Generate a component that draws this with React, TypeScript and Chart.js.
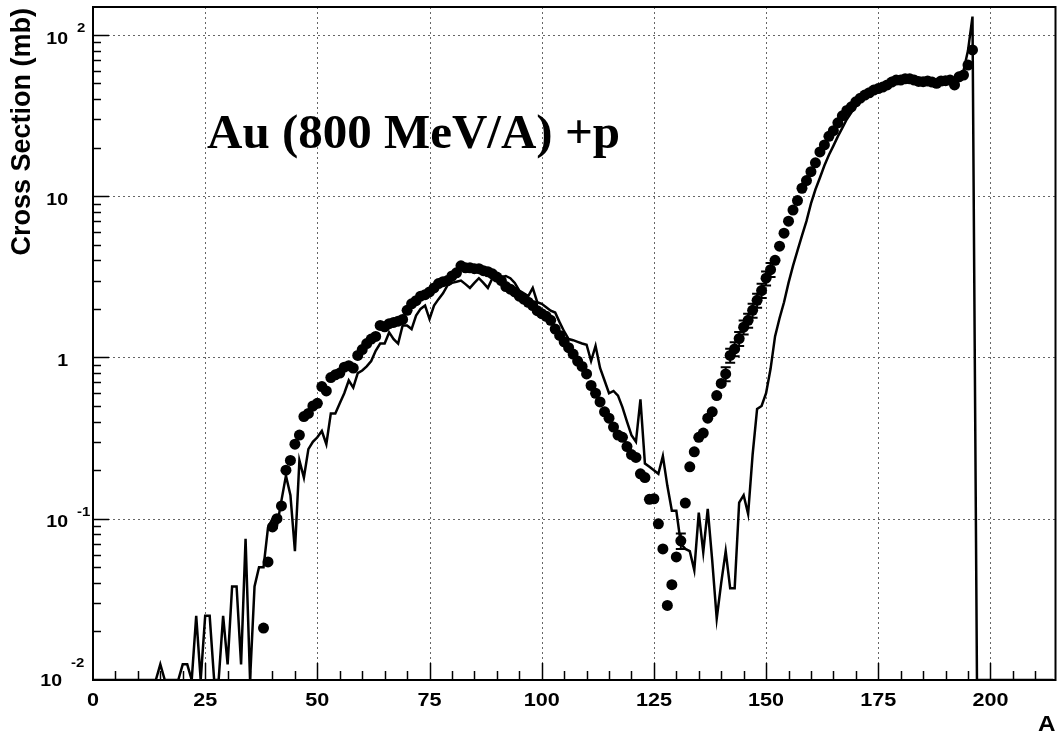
import React, { useEffect, useRef } from 'react';
import { Chart, registerables } from 'chart.js';

Chart.register(...registerables);

// ---------- axis ranges ----------
const X_MIN = 0;
const X_MAX = 214.5;
const Y_MIN = 0.01;
const Y_MAX = 149;

// ---------- tick labels ----------
const xTickValues = [0, 25, 50, 75, 100, 125, 150, 175, 200];
const xTickLabels = ['0', '25', '50', '75', '100', '125', '150', '175', '200'];
const yTickValues = [100, 10, 1, 0.1, 0.01];
const yTickBase = ['10', '10', '1', '10', '10'];
const yTickExp = ['2', '', '', '-1', '-2'];

// ---------- simulation (histogram line), A = 0 .. 214 ----------
const simStartA = 0;
const simValues = [
  0, 0, 0, 0, 0, 0, 0, 0, 0, 0,
  0, 0, 0, 0, 0, 0.0125, 0, 0, 0, 0,
  0.0125, 0.0125, 0, 0.025, 0, 0.025, 0.025, 0, 0, 0.025,
  0.0125, 0.038, 0.038, 0.0125, 0.075, 0, 0.038, 0.05, 0.05, 0.088,
  0.1, 0.09, 0.13, 0.185, 0.14, 0.063, 0.23, 0.18, 0.27, 0.3,
  0.32, 0.35, 0.29, 0.45, 0.45, 0.52, 0.6, 0.72, 0.65, 0.8,
  0.83, 0.88, 0.95, 1.1, 1.22, 1.22, 1.43, 1.3, 1.22, 1.58,
  1.58, 1.5, 1.82, 2.0, 2.1, 1.73, 2.1, 2.3, 2.5, 2.8,
  2.9, 2.95, 3.0, 2.85, 2.7, 2.9, 3.1, 2.9, 2.7, 3.1,
  3.15, 3.15, 3.2, 3.1, 2.9, 2.6, 2.5, 2.4, 2.7, 2.2,
  2.15, 2.05, 1.95, 1.9, 1.65, 1.45, 1.3, 1.28, 1.25, 1.22,
  1.2, 0.95, 1.18, 0.86, 0.72, 0.6, 0.62, 0.58, 0.49, 0.4,
  0.33, 0.3, 0.55, 0.22, 0.21, 0.2, 0.19, 0.245, 0.16, 0.112,
  0.112, 0.07, 0.065, 0.063, 0.048, 0.109, 0.062, 0.115, 0.055, 0.024,
  0.04, 0.063, 0.037, 0.037, 0.126, 0.14, 0.107, 0.25, 0.48, 0.5,
  0.6, 0.85, 1.35, 1.75, 2.2, 2.9, 3.7, 4.6, 5.7, 7.0,
  9.0, 11, 13, 15.5, 18, 20.5, 23.5, 26.5, 30, 33,
  36, 38.5, 40.5, 42.5, 44.5, 46, 47.5, 49, 50.5, 51.5,
  52.5, 53, 53, 52.5, 51.5, 51.3, 51.5, 51, 50.5, 51.5,
  52, 52, 50, 55, 60, 80, 130, 0, 0, 0,
  0, 0, 0, 0, 0, 0, 0, 0, 0, 0,
  0, 0, 0, 0, 0,
];

// ---------- experimental points, A = 38 .. 196 ----------
const expStartA = 38;
const expValues = [
  0.021, 0.054, 0.089, 0.10, 0.12, 0.20, 0.23, 0.29, 0.33, 0.43,
  0.45, 0.50, 0.52, 0.66, 0.62, 0.75, 0.78, 0.80, 0.87, 0.89,
  0.86, 1.03, 1.12, 1.22, 1.30, 1.35, 1.58, 1.55, 1.62, 1.65,
  1.68, 1.72, 1.96, 2.15, 2.25, 2.4, 2.45, 2.55, 2.7, 2.87,
  2.95, 3.0, 3.2, 3.35, 3.7, 3.6, 3.6, 3.55, 3.55, 3.45,
  3.4, 3.3, 3.15, 3.0, 2.75, 2.65, 2.55, 2.4, 2.3, 2.2,
  2.1, 1.95, 1.87, 1.8, 1.7, 1.5, 1.37, 1.25, 1.15, 1.05,
  0.95, 0.88, 0.79, 0.67, 0.6, 0.53, 0.46, 0.42, 0.37, 0.33,
  0.32, 0.28, 0.25, 0.24, 0.19, 0.18, 0.132, 0.133, 0.093, 0.065,
  0.029, 0.039, 0.058, 0.073, 0.125, 0.21, 0.26, 0.32, 0.34, 0.42,
  0.46, 0.58, 0.69, 0.79, 1.03, 1.13, 1.31, 1.54, 1.7, 1.96,
  2.26, 2.6, 3.1, 3.5, 4.0, 4.9, 5.9, 7.0, 8.2, 9.4,
  11.2, 12.5, 14.2, 16.1, 18.8, 20.8, 23.5, 25.5, 28.5, 31.5,
  34, 35.8, 38.5, 40.5, 42.4, 43.8, 45.5, 46.5, 47.5, 49,
  51, 52.5, 52.5, 53.5, 53.5, 52.5, 51.5, 51.3, 51.8, 51,
  50.1, 51.8, 52, 52.5, 49, 55, 56.4, 65, 80.7,
];

// ---------- visible error bars (relative) ----------
const errA = [131, 141, 142, 143, 144, 145, 146, 147, 148, 149, 150, 151];
const errRel = [0.11, 0.1, 0.1, 0.1, 0.1, 0.1, 0.1, 0.1, 0.1, 0.1, 0.1, 0.1];

const TITLE_TEXT = 'Au (800 MeV/A) +p';
const Y_TITLE = 'Cross Section (mb)';
const X_TITLE = 'A';

const SANS = '"Liberation Sans", Arial, Helvetica, sans-serif';
const SERIF = '"Liberation Serif", "Times New Roman", serif';

function drawScaledText(
  ctx: CanvasRenderingContext2D,
  text: string,
  x: number,
  centerY: number,
  size: number,
  align: 'left' | 'right' | 'center',
  hscale: number,
) {
  ctx.save();
  ctx.font = `bold ${size}px ${SANS}`;
  ctx.textAlign = 'left';
  ctx.textBaseline = 'alphabetic';
  const w = ctx.measureText(text).width * hscale;
  const left = align === 'center' ? x - w / 2 : align === 'right' ? x - w : x;
  ctx.translate(left, centerY + 0.358 * size);
  ctx.scale(hscale, 1);
  ctx.fillStyle = '#000';
  ctx.fillText(text, 0, 0);
  ctx.restore();
}

const pawPlugin = {
  id: 'pawAxes',
  beforeDatasetsDraw(chart: any) {
    const { ctx, chartArea: a, scales } = chart;
    const xs = scales.x;
    const ys = scales.y;
    ctx.save();
    ctx.strokeStyle = '#666';
    ctx.lineWidth = 1;
    ctx.setLineDash([2, 3]);
    xTickValues.forEach((v) => {
      if (v <= X_MIN) return;
      const px = Math.round(xs.getPixelForValue(v)) + 0.5;
      ctx.beginPath();
      ctx.moveTo(px, a.top);
      ctx.lineTo(px, a.bottom);
      ctx.stroke();
    });
    yTickValues.forEach((v) => {
      if (v <= Y_MIN) return;
      const py = Math.round(ys.getPixelForValue(v)) + 0.5;
      ctx.beginPath();
      ctx.moveTo(a.left, py);
      ctx.lineTo(a.right, py);
      ctx.stroke();
    });
    ctx.restore();
  },
  afterDatasetsDraw(chart: any) {
    const { ctx, chartArea: a, scales } = chart;
    const xs = scales.x;
    const ys = scales.y;
    ctx.save();

    // error bars
    ctx.strokeStyle = '#000';
    ctx.lineWidth = 2;
    errA.forEach((A, i) => {
      const v = expValues[A - expStartA];
      const px = xs.getPixelForValue(A);
      const pt = ys.getPixelForValue(v * (1 + errRel[i]));
      const pb = ys.getPixelForValue(v * (1 - errRel[i]));
      ctx.beginPath();
      ctx.moveTo(px, pt);
      ctx.lineTo(px, pb);
      ctx.moveTo(px - 5, pt);
      ctx.lineTo(px + 5, pt);
      ctx.moveTo(px - 5, pb);
      ctx.lineTo(px + 5, pb);
      ctx.stroke();
    });

    // frame
    ctx.lineWidth = 2;
    ctx.strokeStyle = '#000';
    ctx.strokeRect(a.left, a.top, a.right - a.left, a.bottom - a.top);

    // x ticks
    ctx.lineWidth = 1.5;
    for (let v = 5; v < X_MAX; v += 5) {
      const px = Math.round(xs.getPixelForValue(v)) + 0.5;
      const len = v % 25 === 0 ? 17 : 9;
      ctx.beginPath();
      ctx.moveTo(px, a.bottom);
      ctx.lineTo(px, a.bottom - len);
      ctx.stroke();
    }
    // y ticks
    for (let d = Y_MIN; d < Y_MAX; d *= 10) {
      for (let m = 1; m <= 9; m++) {
        const v = d * m;
        if (v <= Y_MIN * 1.0001 || v > Y_MAX) continue;
        const py = Math.round(ys.getPixelForValue(v)) + 0.5;
        const len = m === 1 ? 16 : 8;
        ctx.beginPath();
        ctx.moveTo(a.left, py);
        ctx.lineTo(a.left + len, py);
        ctx.stroke();
      }
    }

    // x tick labels
    xTickValues.forEach((v, i) => {
      const px = xs.getPixelForValue(v);
      drawScaledText(ctx, xTickLabels[i], px, a.bottom + 20, 18, 'center', 1.2);
    });

    // y tick labels
    yTickValues.forEach((v, i) => {
      const py = ys.getPixelForValue(v);
      const exp = yTickExp[i];
      const isBottom = v <= Y_MIN;
      const baseRight = isBottom ? a.left - 31 : a.left - 25;
      const baseCenter = isBottom ? py : py + 2.5;
      drawScaledText(ctx, yTickBase[i], baseRight, baseCenter, 17, 'right', 1.15);
      if (exp) {
        const expLeft = baseRight + 9;
        const expCenter = isBottom ? py - 18 : py - 7.5;
        drawScaledText(ctx, exp, expLeft, expCenter, 13, 'left', 1.15);
      }
    });

    // axis titles
    drawScaledText(ctx, X_TITLE, a.right, a.bottom + 43, 22, 'right', 1.1);

    ctx.save();
    ctx.font = `bold 27px ${SANS}`;
    ctx.fillStyle = '#000';
    ctx.textAlign = 'right';
    ctx.textBaseline = 'alphabetic';
    ctx.translate(30, 8);
    ctx.rotate(-Math.PI / 2);
    ctx.fillText(Y_TITLE, 0, 0);
    ctx.restore();

    // plot title
    ctx.font = `bold 49px ${SERIF}`;
    ctx.fillStyle = '#000';
    ctx.textAlign = 'left';
    ctx.textBaseline = 'alphabetic';
    ctx.fillText(TITLE_TEXT, 207, 148);

    ctx.restore();
  },
};

export default function App() {
  const canvasRef = useRef<HTMLCanvasElement | null>(null);

  useEffect(() => {
    const canvas = canvasRef.current;
    if (!canvas) return;

    const simData = simValues.map((v, i) => ({ x: simStartA + i, y: v > 0 ? v : Y_MIN }));
    const expData = expValues.map((v, i) => ({ x: expStartA + i, y: v }));

    const chart = new Chart(canvas, {
      type: 'line',
      data: {
        datasets: [
          {
            label: 'simulation',
            data: simData,
            borderColor: '#000',
            borderWidth: 2.5,
            pointRadius: 0,
            tension: 0,
            fill: false,
            clip: 0,
            order: 2,
          } as any,
          {
            label: 'experiment',
            data: expData,
            showLine: false,
            pointRadius: 5.5,
            pointBackgroundColor: '#000',
            pointBorderColor: '#000',
            pointBorderWidth: 0,
            order: 1,
          } as any,
        ],
      },
      options: {
        responsive: false,
        animation: false,
        events: [],
        layout: { padding: { left: 93, top: 7, right: 3, bottom: 58 } },
        plugins: {
          legend: { display: false },
          tooltip: { enabled: false },
          title: { display: false },
        },
        scales: {
          x: { type: 'linear', min: X_MIN, max: X_MAX, display: false },
          y: { type: 'logarithmic', min: Y_MIN, max: Y_MAX, display: false },
        },
      },
      plugins: [pawPlugin],
    });

    return () => chart.destroy();
  }, []);

  return (
    <div style={{ position: 'fixed', left: 0, top: 0, width: 1061, height: 738, background: '#fff' }}>
      <canvas ref={canvasRef} width={1061} height={738} style={{ display: 'block', width: 1061, height: 738 }} />
    </div>
  );
}
